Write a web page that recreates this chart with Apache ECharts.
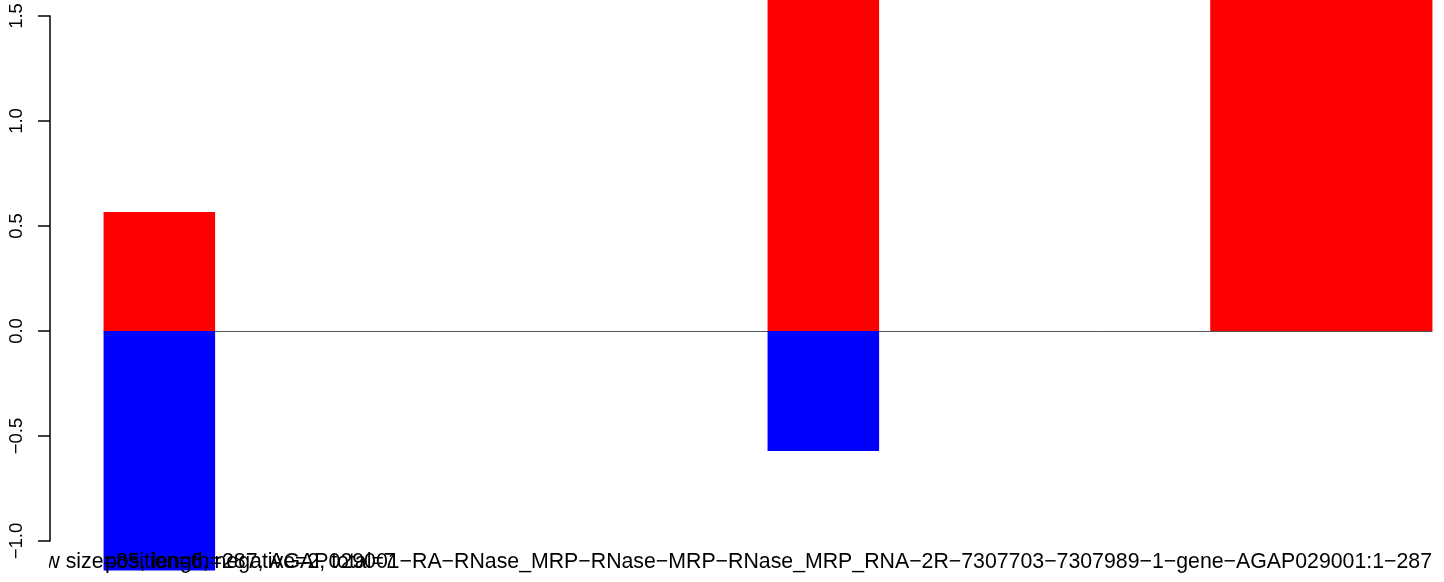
<!DOCTYPE html>
<html>
<head>
<meta charset="utf-8">
<script src="https://cdn.jsdelivr.net/npm/echarts@6/dist/echarts.min.js"></script>
<style>
  html, body { margin: 0; padding: 0; background: #fff; }
  #chart { width: 1444px; height: 582px; }
</style>
</head>
<body>
<div id="chart"></div>
<script>
// ---- data ----
const categories = ['1','2','3','4','5','6','7','8','9','10','11','12'];
const positiveValues = [0.567, null, null, null, null, null, 2.0, null, null, null, 2.0, 2.0];
const negativeValues = [-1.14, null, null, null, null, null, -0.571, null, null, null, null, null];
const yTicks = [-1.0, -0.5, 0.0, 0.5, 1.0, 1.5];
const labelMain = 'window size=85, length=287, AGAP029001\u2212RA\u2212RNase_MRP\u2212RNase\u2212MRP\u2212RNase_MRP_RNA\u22122R\u22127307703\u22127307989\u22121\u2212gene\u2212AGAP029001:1\u2212287';
const labelSecond = 'position=6, negative=2, total=7';

const FONT = '"Liberation Sans", Arial, Helvetica, sans-serif';
const TEXT_FONT = '21.3px ' + FONT;
const chart = echarts.init(document.getElementById('chart'), null, { renderer: 'canvas' });

chart.setOption({
  animation: false,
  backgroundColor: '#ffffff',
  grid: { left: 104, right: 12, top: 16, bottom: 41, containLabel: false },
  xAxis: {
    type: 'category',
    data: categories,
    boundaryGap: true,
    axisLine: { show: true, onZero: true, lineStyle: { color: '#555555', width: 1 } },
    axisTick: { show: false },
    axisLabel: { show: false },
    splitLine: { show: false },
    z: 1
  },
  yAxis: {
    type: 'value',
    min: yTicks[0],
    max: yTicks[yTicks.length - 1],
    interval: 0.5,
    offset: 54,
    z: 20,
    axisLine: { show: true, lineStyle: { color: '#000000', width: 1.5 } },
    axisTick: { show: true, length: 12, lineStyle: { color: '#000000', width: 1.5 } },
    splitLine: { show: false },
    axisLabel: {
      rotate: 90,
      margin: 24,
      fontFamily: FONT,
      fontSize: 18.5,
      color: '#000000',
      formatter: v => v.toFixed(1).replace('-', '\u2212')
    }
  },
  series: [
    {
      type: 'bar',
      data: positiveValues,
      barWidth: '100.8%',
      barGap: '-100%',
      clip: false,
      itemStyle: { color: '#ff0000' },
      z: 2
    },
    {
      type: 'bar',
      data: negativeValues,
      barWidth: '100.8%',
      barGap: '-100%',
      clip: false,
      itemStyle: { color: '#0000ff' },
      z: 2
    }
  ],
  graphic: [
    {
      type: 'text', z: 10, right: 12, top: 552,
      style: { text: labelMain, font: TEXT_FONT, fill: '#000000' }
    },
    {
      type: 'text', z: 10, left: 105, top: 552,
      style: { text: labelSecond, font: TEXT_FONT, fill: '#000000' }
    },
    {
      type: 'rect', z: 15, left: 0, top: 551,
      shape: { width: 49, height: 31 },
      style: { fill: '#ffffff' }
    }
  ]
});
</script>
</body>
</html>
